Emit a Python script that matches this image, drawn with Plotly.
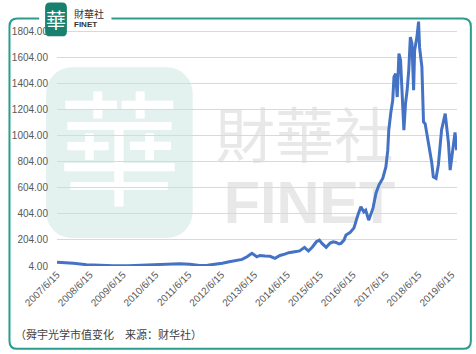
import base64
import plotly.graph_objects as go

dates = ["2007-06-15","2007-08-28","2007-12-15","2008-05-08","2008-09-20","2009-03-03","2009-08-15",
         "2010-02-28","2010-09-02","2011-03-07","2011-06-28","2011-10-16","2012-01-12","2012-04-08",
         "2012-06-25","2012-09-09","2012-12-06","2013-01-30","2013-03-26","2013-05-19","2013-07-13",
         "2013-08-15","2013-10-12","2013-12-06","2014-01-30","2014-03-26","2014-05-19","2014-07-02",
         "2014-09-06","2014-10-31","2014-12-24","2015-02-06","2015-03-22","2015-05-05","2015-06-07",
         "2015-07-09","2015-08-22","2015-10-05","2015-11-07","2015-12-10","2016-01-12","2016-02-03",
         "2016-03-07","2016-03-29","2016-05-12","2016-06-25","2016-08-08","2016-09-10","2016-10-13",
         "2016-11-03","2016-12-06","2017-01-23","2017-02-25","2017-03-30","2017-05-12","2017-06-15",
         "2017-07-06","2017-07-17","2017-08-08","2017-08-30","2017-09-13","2017-10-01","2017-10-19",
         "2017-11-07","2017-11-25","2017-12-13","2018-01-01","2018-01-19","2018-02-06","2018-02-24",
         "2018-03-14","2018-04-01","2018-04-19","2018-04-30","2018-05-26","2018-06-13","2018-06-24",
         "2018-07-20","2018-08-07","2018-08-25","2018-10-01","2018-11-06","2018-11-24","2018-12-24",
         "2019-01-19","2019-02-24","2019-04-05","2019-04-23","2019-05-11","2019-05-30","2019-06-17",
         "2019-07-05","2019-07-23","2019-08-10"]
values = [32,30,25,14,8,5,6,
          10,15,22,18,8,10,17,
          25,37,48,55,75,101,75,
          85,80,78,63,85,95,106,
          114,120,147,119,150,190,203,
          175,147,180,190,185,173,178,
          203,242,260,295,395,458,420,
          433,356,448,563,625,678,765,
          893,1046,1176,1276,1455,1481,1301,
          1634,1583,1251,1046,1251,1353,1506,
          1761,1711,1353,1659,1761,1880,1684,
          1531,1110,1097,950,800,688,676,
          780,1050,1174,1080,950,740,842,
          944,1030,893]

tick_dates = ["%d-06-15" % y for y in range(2007, 2020)]
tick_labels = ["%d/6/15" % y for y in range(2007, 2020)]
y_ticks = [4 + 200 * i for i in range(10)]
y_labels = ["%.2f" % v for v in y_ticks]

W, H = 476, 354
L, R, T, B = 53, 457, 18.6, 266

def px(x):
    return (x - L) / (R - L)

def py(y):
    return (B - y) / (B - T)

def rrect(x0, y0, x1, y1, r):
    return (f"M {px(x0+r)},{py(y0)} L {px(x1-r)},{py(y0)} Q {px(x1)},{py(y0)} {px(x1)},{py(y0+r)} "
            f"L {px(x1)},{py(y1-r)} Q {px(x1)},{py(y1)} {px(x1-r)},{py(y1)} L {px(x0+r)},{py(y1)} "
            f"Q {px(x0)},{py(y1)} {px(x0)},{py(y1-r)} L {px(x0)},{py(y0+r)} Q {px(x0)},{py(y0)} {px(x0+r)},{py(y0)} Z")

# background watermark as an SVG image placed below the grid
svg = f"""<svg xmlns="http://www.w3.org/2000/svg" width="{W}" height="{H}" viewBox="0 0 {W} {H}">
<rect x="42" y="67" width="148" height="171" rx="26" ry="26" fill="#E3F1EF"/>
<text x="116" y="196" font-family="Noto Sans CJK TC" font-size="124" fill="#FFFFFF" text-anchor="middle">華</text>
<text x="303" y="158" font-family="Noto Sans CJK TC" font-size="60" fill="#E8E8E8" text-anchor="middle">財華社</text>
<text x="308" y="223" font-family="Liberation Sans" font-weight="bold" font-size="60" fill="#E8E8E8" text-anchor="middle">FINET</text>
</svg>"""
svg_uri = "data:image/svg+xml;base64," + base64.b64encode(svg.encode("utf-8")).decode("ascii")

fig = go.Figure()
fig.add_trace(go.Scatter(x=dates, y=values, mode="lines",
                         line=dict(color="#4472C4", width=3), hoverinfo="skip"))

shapes = []
fx0, fx1, fy0, fy1, fr = 5, 471, 18, 349, 8
fpath = (f"M {px(108)},{py(fy0)} L {px(fx1-fr)},{py(fy0)} Q {px(fx1)},{py(fy0)} {px(fx1)},{py(fy0+fr)} "
         f"L {px(fx1)},{py(fy1-fr)} Q {px(fx1)},{py(fy1)} {px(fx1-fr)},{py(fy1)} L {px(fx0+fr)},{py(fy1)} "
         f"Q {px(fx0)},{py(fy1)} {px(fx0)},{py(fy1-fr)} L {px(fx0)},{py(fy0+fr)} Q {px(fx0)},{py(fy0)} {px(fx0+fr)},{py(fy0)} "
         f"L {px(35)},{py(fy0)}")
shapes.append(dict(type="path", path=fpath, xref="paper", yref="paper", layer="above",
                   line=dict(color="#2A9D8F", width=2)))
shapes.append(dict(type="path", path=rrect(41, 2, 63, 36, 5), xref="paper", yref="paper", layer="above",
                   fillcolor="#17806F", line=dict(width=0)))

annotations = [
    dict(text="華", x=px(52), y=py(19), xref="paper", yref="paper", showarrow=False,
         font=dict(family="Noto Sans CJK TC", size=20, color="white"), xanchor="center", yanchor="middle"),
    dict(text="財華社", x=px(68), y=py(13), xref="paper", yref="paper", showarrow=False,
         font=dict(family="Noto Sans CJK TC", size=10, color="#333333"), xanchor="left", yanchor="middle"),
    dict(text="<b>FINET</b>", x=px(68), y=py(24), xref="paper", yref="paper", showarrow=False,
         font=dict(family="Liberation Sans", size=8, color="#333333"), xanchor="left", yanchor="middle"),
    dict(text="（舜宇光学市值变化　来源：财华社）", x=px(9), y=py(334), xref="paper", yref="paper",
         showarrow=False, font=dict(family="Noto Sans CJK SC", size=11, color="#404040"),
         xanchor="left", yanchor="middle"),
]

fig.update_layout(
    width=W, height=H, margin=dict(l=L, r=W - R, t=T, b=H - B),
    paper_bgcolor="white", plot_bgcolor="rgba(0,0,0,0)",
    showlegend=False, shapes=shapes, annotations=annotations,
    images=[dict(source=svg_uri, xref="paper", yref="paper", x=px(0), y=py(0),
                 sizex=W / (R - L), sizey=H / (B - T), xanchor="left", yanchor="top",
                 sizing="stretch", layer="below")],
    xaxis=dict(type="date", range=["2007-06-15", "2019-08-14"], tickvals=tick_dates, ticktext=tick_labels,
               tickangle=-45, showgrid=False, zeroline=False, showline=False, ticks="",
               tickfont=dict(family="Liberation Sans", size=10, color="#595959")),
    yaxis=dict(range=[4, 1900], tickvals=y_ticks, ticktext=y_labels, showgrid=True,
               gridcolor="#D9D9D9", gridwidth=1, zeroline=False, showline=False, ticks="",
               tickfont=dict(family="Liberation Sans", size=10, color="#595959"), ticklabelstandoff=8),
)

fig.write_html("out.html")
